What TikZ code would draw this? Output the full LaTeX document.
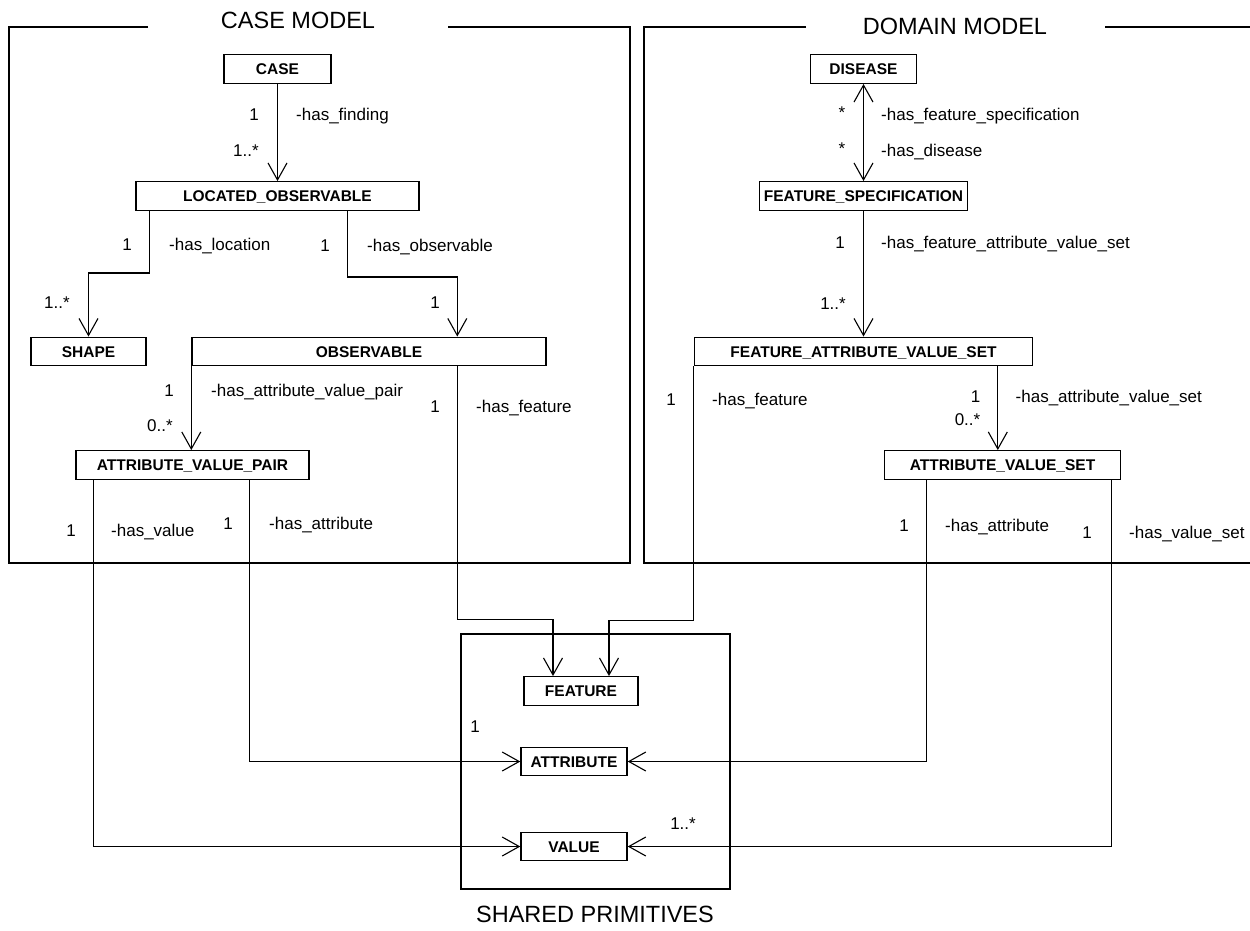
\documentclass[tikz,border=0pt]{standalone}
\usepackage{fontspec}
\setmainfont{Liberation Sans}
\usetikzlibrary{arrows.meta}
\begin{document}
\begin{tikzpicture}[x=1pt,y=-1pt,
  frame/.style={line width=2.5pt},
  cls/.style={draw,line width=1.4pt,inner sep=0pt,minimum height=28.5pt,
    text height=11pt,text depth=0pt,font=\fontsize{15.5}{18}\selectfont\bfseries},
  lbl/.style={inner sep=0pt,text height=12.2pt,text depth=0pt,
    font=\fontsize{17}{20}\selectfont},
  ttl/.style={inner sep=0pt,text height=17pt,text depth=0pt,
    font=\fontsize{23.5}{28}\selectfont},
  assoc/.style={line width=1.1pt,-{Straight Barb[length=17pt,width=19pt]}},
  bassoc/.style={line width=1.1pt,{Straight Barb[length=17pt,width=19pt]}-{Straight Barb[length=17pt,width=19pt]}}
]
\useasboundingbox (0,0) rectangle (1250,930);
\fill[white] (0,0) rectangle (1250,930);
\clip (0,0) rectangle (1250,930);

% package frames
\draw[frame] (148,27) -- (9,27) -- (9,563) -- (630,563) -- (630,27) -- (448,27);
\draw[frame] (806,27) -- (644,27) -- (644,563) -- (1270,563);
\draw[frame] (1105,27) -- (1270,27);
\draw[frame] (461,634) rectangle (730,889);

\node[ttl] (tcase) at (298,20) {CASE MODEL};
\node[ttl] (tdomain) at (955,26) {DOMAIN MODEL};
\node[ttl] (tshared) at (595,914) {SHARED PRIMITIVES};

% classes: case model
\node[cls,minimum width=107pt] (case) at (277.5,69) {CASE};
\node[cls,minimum width=283pt] (lobs) at (277.5,196) {LOCATED\_OBSERVABLE};
\node[cls,minimum width=115pt] (shape) at (88.5,351.5) {SHAPE};
\node[cls,minimum width=354pt] (obs) at (369,351.5) {OBSERVABLE};
\node[cls,minimum width=233pt] (avp) at (192.5,465) {ATTRIBUTE\_VALUE\_PAIR};

% classes: domain model
\node[cls,minimum width=106.5pt] (disease) at (863.5,69) {DISEASE};
\node[cls,minimum width=208.5pt] (fspec) at (863.5,196) {FEATURE\_SPECIFICATION};
\node[cls,minimum width=338pt] (favs) at (863.5,351.5) {FEATURE\_ATTRIBUTE\_VALUE\_SET};
\node[cls,minimum width=236.5pt] (avs) at (1002.5,465) {ATTRIBUTE\_VALUE\_SET};

% classes: shared primitives
\node[cls,minimum width=114pt] (feature) at (581,691) {FEATURE};
\node[cls,minimum width=106pt] (attribute) at (574,761.5) {ATTRIBUTE};
\node[cls,minimum width=106pt] (value) at (574,846.5) {VALUE};

% associations
\draw[assoc] (case) -- (lobs);
\draw[assoc] ([xshift=14pt]lobs.south west) -- ++(0,62) -| (shape.north);
\draw[assoc] ([xshift=212pt]lobs.south west) -- ++(0,66) -| ([xshift=266pt]obs.north west);
\draw[assoc] (obs.south west) -- (obs.south west |- avp.north);
\draw[assoc] ([xshift=266pt]obs.south west) -- ++(0,253) -| ([xshift=-28pt]feature.north);
\draw[assoc] ([xshift=18pt]avp.south west) |- (value.west);
\draw[assoc] ([xshift=174pt]avp.south west) |- (attribute.west);

\draw[bassoc] (disease) -- (fspec);
\draw[assoc] (fspec) -- (favs);
\draw[assoc] (favs.south west) -- ++(0,254) -| ([xshift=28pt]feature.north);
\draw[assoc] ([xshift=304pt]favs.south west) -- ([xshift=304pt]favs.south west |- avs.north);
\draw[assoc] ([xshift=43pt]avs.south west) |- (attribute.east);
\draw[assoc] ([xshift=-10pt]avs.south east) |- (value.east);

% role names and multiplicities: case model
\node[lbl] (m1) at (254,114) {1};
\node[lbl,anchor=west] (r1) at (296,114) {-has\_finding};
\node[lbl] (m2) at (246,150) {1..*};
\node[lbl] (m3) at (127,244) {1};
\node[lbl,anchor=west] (r3) at (169,244) {-has\_location};
\node[lbl] (m4) at (325,245) {1};
\node[lbl,anchor=west] (r4) at (367,245) {-has\_observable};
\node[lbl] (m5) at (57,302) {1..*};
\node[lbl] (m6) at (435,302) {1};
\node[lbl] (m7) at (169,390) {1};
\node[lbl,anchor=west] (r7) at (211,390) {-has\_attribute\_value\_pair};
\node[lbl] (m8) at (160,425) {0..*};
\node[lbl] (m9) at (435,406) {1};
\node[lbl,anchor=west] (r9) at (476,406) {-has\_feature};
\node[lbl] (m10) at (71,530) {1};
\node[lbl,anchor=west] (r10) at (111,530) {-has\_value};
\node[lbl] (m11) at (228,523) {1};
\node[lbl,anchor=west] (r11) at (269,523) {-has\_attribute};

% role names and multiplicities: domain model
\node[lbl] (m12) at (842,112) {*};
\node[lbl,anchor=west] (r12) at (881,114) {-has\_feature\_specification};
\node[lbl] (m13) at (842,148) {*};
\node[lbl,anchor=west] (r13) at (881,150) {-has\_disease};
\node[lbl] (m14) at (840,242) {1};
\node[lbl,anchor=west] (r14) at (881,242) {-has\_feature\_attribute\_value\_set};
\node[lbl] (m15) at (833,303) {1..*};
\node[lbl] (m16) at (671,399) {1};
\node[lbl,anchor=west] (r16) at (712,399) {-has\_feature};
\node[lbl] (m17) at (975.5,396) {1};
\node[lbl,anchor=west] (r17) at (1015.5,396) {-has\_attribute\_value\_set};
\node[lbl] (m18) at (967.5,419) {0..*};
\node[lbl] (m19) at (904,525) {1};
\node[lbl,anchor=west] (r19) at (945,525) {-has\_attribute};
\node[lbl] (m20) at (1087,532) {1};
\node[lbl,anchor=west] (r20) at (1129,532) {-has\_value\_set};

% multiplicities: shared primitives
\node[lbl] (m21) at (475,726) {1};
\node[lbl] (m22) at (683,823) {1..*};
\end{tikzpicture}
\end{document}
